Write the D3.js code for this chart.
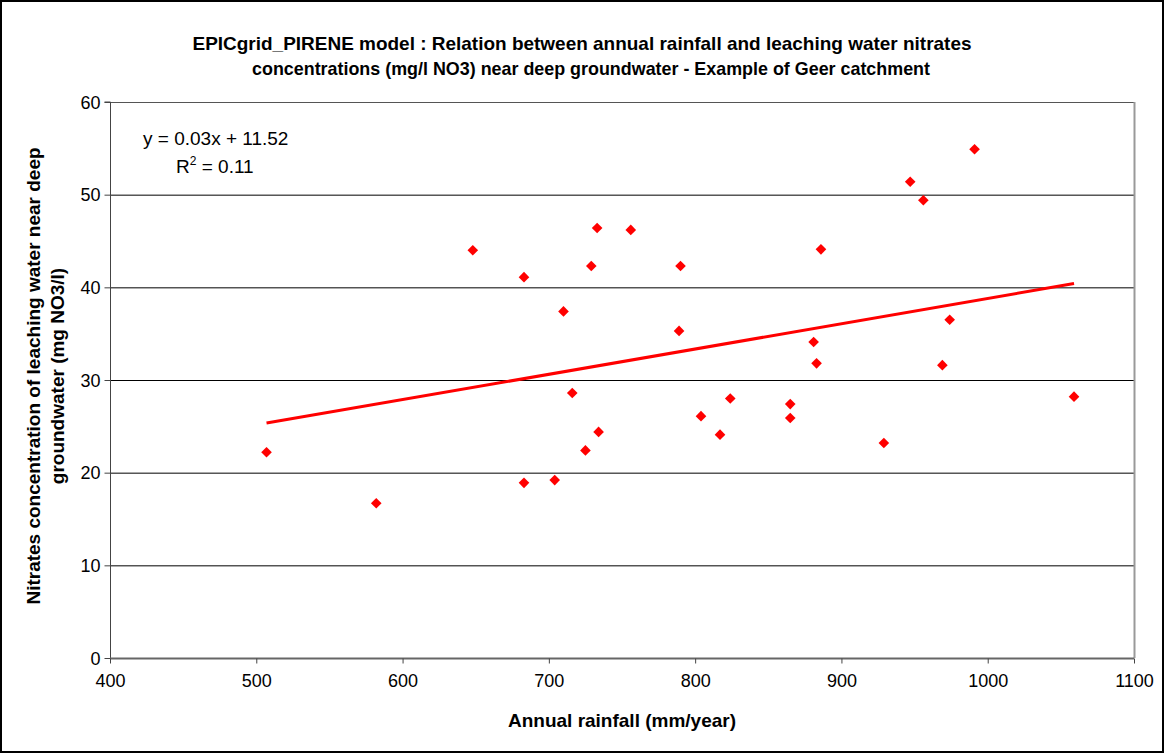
<!DOCTYPE html>
<html>
<head>
<meta charset="utf-8">
<script src="https://cdn.jsdelivr.net/npm/d3@7"></script>
<style>
  html, body { margin: 0; padding: 0; background: #fff; }
  svg text { font-family: "Liberation Sans", Arial, sans-serif; fill: #000; }
</style>
</head>
<body>
<svg id="chart" width="1165" height="754"></svg>
<script>
// ---- Data ----
const rainfall = [507, 582, 648, 683, 733, 756, 729, 790, 886, 710,
                  789, 881, 883, 716, 824, 865, 865, 804, 734, 817,
                  725, 683, 704, 991, 947, 956, 974, 969, 1059, 929];
const nitrates = [22.2, 16.7, 44.0, 41.1, 46.4, 46.2, 42.3, 42.3, 44.1, 37.4,
                  35.3, 34.1, 31.8, 28.6, 28.0, 27.4, 25.9, 26.1, 24.4, 24.1,
                  22.4, 18.9, 19.2, 54.9, 51.4, 49.4, 36.5, 31.6, 28.2, 23.2];
const xTicks = [400, 500, 600, 700, 800, 900, 1000, 1100];
const yTicks = [0, 10, 20, 30, 40, 50, 60];
const titleLines = [
  "EPICgrid_PIRENE model : Relation between annual rainfall and leaching water nitrates",
  "concentrations (mg/l NO3) near deep groundwater - Example of Geer catchment"
];
const xLabel = "Annual rainfall (mm/year)";
const yLabelLines = ["Nitrates concentration of leaching water near deep", "groundwater (mg NO3/l)"];
const equationText = "y = 0.03x + 11.52";
const r2Value = "0.11";

// ---- Layout ----
const svg = d3.select("#chart");
const W = 1165, H = 754;
const plot = { left: 110, right: 1134, top: 102, bottom: 658 };

svg.append("rect").attr("x", 1).attr("y", 1).attr("width", W - 3).attr("height", H - 3)
  .attr("fill", "#fff").attr("stroke", "#000").attr("stroke-width", 2);

const x = d3.scaleLinear().domain([400, 1100]).range([plot.left, plot.right]);
const y = d3.scaleLinear().domain([0, 60]).range([plot.bottom, plot.top]);

// gridlines
svg.append("g").selectAll("line").data(yTicks.filter(v => v > 0)).join("line")
  .attr("x1", plot.left).attr("x2", plot.right)
  .attr("y1", d => y(d) + 0.5).attr("y2", d => y(d) + 0.5)
  .attr("stroke", d => d === 60 ? "#555" : "#000").attr("stroke-width", 1);

// right plot border
svg.append("line").attr("x1", plot.right + 0.5).attr("x2", plot.right + 0.5)
  .attr("y1", plot.top).attr("y2", plot.bottom)
  .attr("stroke", "#999").attr("stroke-width", 2);

// axes
const yAxis = d3.axisLeft(y).tickValues(yTicks).tickSize(6).tickPadding(6).tickFormat(d3.format("d"));
const gy = svg.append("g").attr("transform", `translate(${plot.left + 0.5},0)`).call(yAxis);
gy.select(".domain").attr("stroke", "#444").attr("d", `M-6,${plot.top}H0V${plot.bottom}`);
gy.selectAll(".tick line").attr("stroke", "#444");
gy.selectAll(".tick text").attr("font-size", 18).attr("font-family", "Liberation Sans, Arial, sans-serif")
  .attr("dy", "0.35em").attr("x", -10);

const xAxis = d3.axisBottom(x).tickValues(xTicks).tickSize(5).tickPadding(11).tickFormat(d3.format("d"));
const gx = svg.append("g").attr("transform", `translate(0,${plot.bottom + 0.5})`).call(xAxis);
gx.select(".domain").attr("stroke", "#666").attr("stroke-width", 2).attr("d", `M${plot.left},0H${plot.right}`);
gx.selectAll(".tick line").attr("stroke", "#444");
gx.selectAll(".tick text").attr("font-size", 18).attr("font-family", "Liberation Sans, Arial, sans-serif");

// trendline (least squares)
const n = rainfall.length;
const mx = d3.mean(rainfall), my = d3.mean(nitrates);
let sxy = 0, sxx = 0;
for (let i = 0; i < n; i++) { sxy += (rainfall[i] - mx) * (nitrates[i] - my); sxx += (rainfall[i] - mx) ** 2; }
const slope = sxy / sxx, intercept = my - slope * mx;
const xmin = d3.min(rainfall), xmax = d3.max(rainfall);
svg.append("line")
  .attr("x1", x(xmin)).attr("y1", y(slope * xmin + intercept))
  .attr("x2", x(xmax)).attr("y2", y(slope * xmax + intercept))
  .attr("stroke", "#ff0000").attr("stroke-width", 3);

// points
const diamond = d3.symbol().type(d3.symbolDiamond2).size(72);
svg.append("g").selectAll("path").data(rainfall.map((r, i) => [r, nitrates[i]])).join("path")
  .attr("d", diamond)
  .attr("transform", d => `translate(${x(d[0])},${y(d[1])})`)
  .attr("fill", "#ff0000");

// equation
svg.append("text").attr("x", 143).attr("y", 145).attr("font-size", 19).text(equationText);
const r2 = svg.append("text").attr("x", 176).attr("y", 173).attr("font-size", 19);
r2.append("tspan").text("R");
r2.append("tspan").attr("dy", -8).attr("font-size", 12).text("2");
r2.append("tspan").attr("dy", 8).text(" = " + r2Value);

// title
const centers = [582, 591];
const widths = [779, 678];
titleLines.forEach((t, i) => {
  svg.append("text").attr("x", centers[i]).attr("y", 50 + i * 25)
    .attr("text-anchor", "middle").attr("font-size", 19).attr("font-weight", "bold")
    .attr("textLength", widths[i]).attr("lengthAdjust", "spacingAndGlyphs").text(t);
});

// x label
svg.append("text").attr("x", 622).attr("y", 727).attr("text-anchor", "middle")
  .attr("font-size", 19).attr("font-weight", "bold").text(xLabel);

// y label
yLabelLines.forEach((t, i) => {
  svg.append("text").attr("transform", `translate(${40 + i * 24},${(plot.top + plot.bottom) / 2 - 4}) rotate(-90)`)
    .attr("text-anchor", "middle").attr("font-size", 19).attr("font-weight", "bold").text(t);
});
</script>
</body>
</html>
